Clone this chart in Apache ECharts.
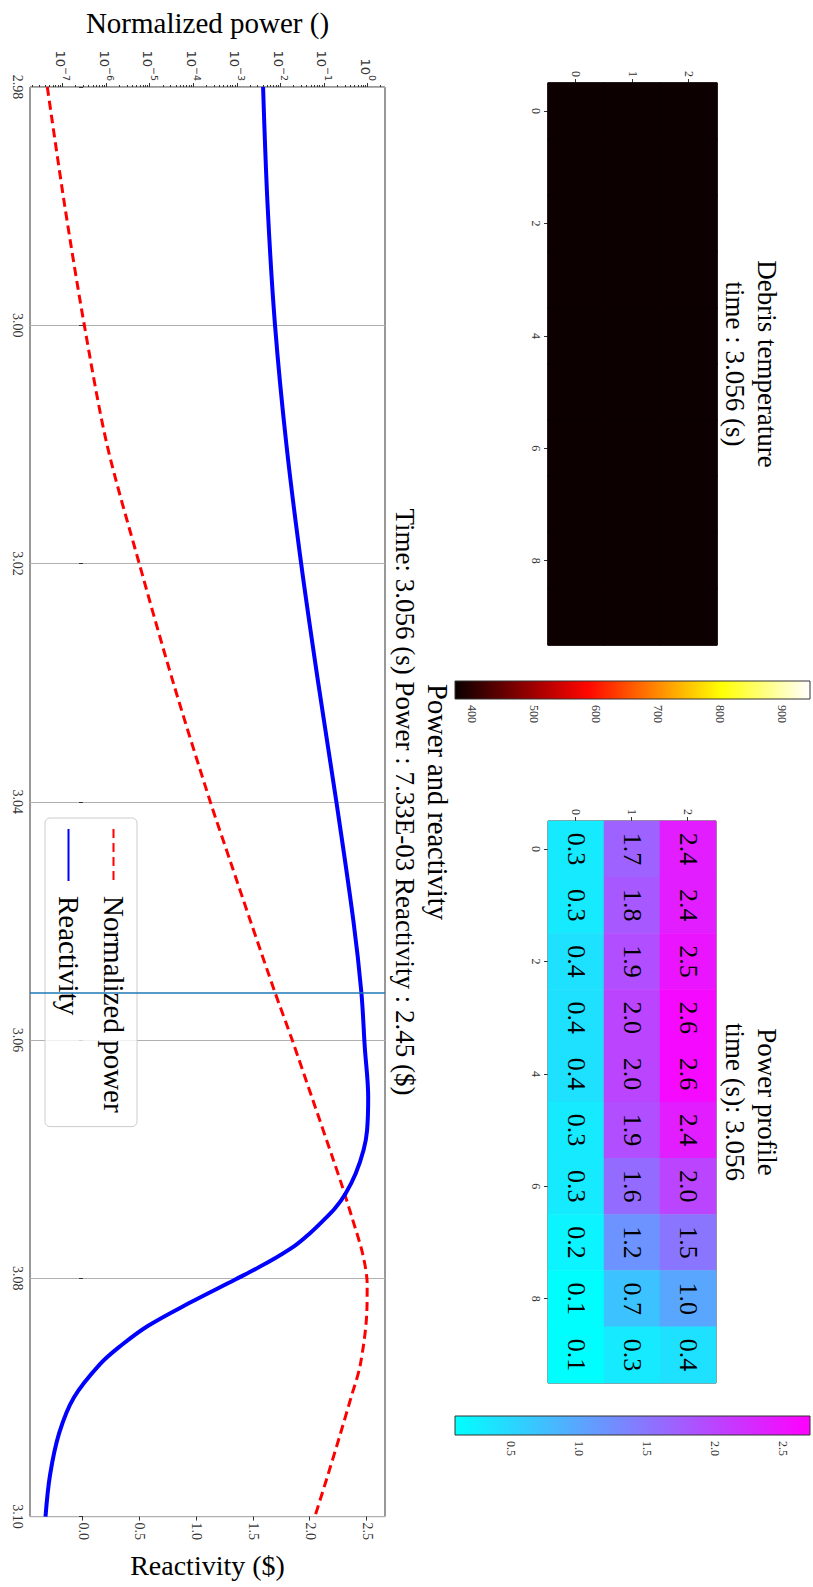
<!DOCTYPE html>
<html><head><meta charset="utf-8">
<script src="https://cdn.jsdelivr.net/npm/echarts@6/dist/echarts.min.js"></script>
<style>
html,body{margin:0;padding:0;background:#fff;width:813px;height:1587px;overflow:hidden}
#wrap{position:absolute;left:0;top:0;width:1587px;height:813px;transform-origin:0 0;transform:translateX(813px) rotate(90deg);}
</style></head><body><div id="wrap"></div>
<script>
// ---------- data ----------
const columns = [0, 1, 2, 3, 4, 5, 6, 7, 8, 9];
const rows = [0, 1, 2];
const debrisRow0 = [375, 375, 375, 375, 375, 375, 375, 375, 375, 375];
const debrisRow1 = [375, 375, 375, 375, 375, 375, 375, 375, 375, 375];
const debrisRow2 = [375, 375, 375, 375, 375, 375, 375, 375, 375, 375];
const powerRow0 = [0.3, 0.3, 0.4, 0.4, 0.4, 0.3, 0.3, 0.2, 0.1, 0.1];
const powerRow1 = [1.7, 1.8, 1.9, 2.0, 2.0, 1.9, 1.6, 1.2, 0.7, 0.3];
const powerRow2 = [2.4, 2.4, 2.5, 2.6, 2.6, 2.4, 2.0, 1.5, 1.0, 0.4];
const debrisRange = [373, 945];
const powerRange = [0.09, 2.70];
const debrisTicks = [400, 500, 600, 700, 800, 900];
const powerTicks = [0.5, 1.0, 1.5, 2.0, 2.5];

const powerTimes = [2.98, 2.99, 3.00, 3.01, 3.02, 3.03, 3.04, 3.045, 3.05, 3.056, 3.06, 3.065, 3.07, 3.0723, 3.075, 3.078, 3.0805, 3.083, 3.0873, 3.09, 3.093, 3.0965, 3.10];
const normPower  = [4.37e-8, 1.10e-7, 3.09e-7, 1.02e-6, 5.62e-6, 3.39e-5, 2.40e-4, 6.92e-4, 2.0e-3, 7.33e-3, 1.82e-2, 5.37e-2, 0.158, 0.257, 0.437, 0.759, 0.955, 0.933, 0.661, 0.407, 0.234, 0.120, 0.0603];
const reactTimes = [2.98, 2.99, 3.00, 3.01, 3.02, 3.03, 3.04, 3.05, 3.056, 3.0606, 3.0648, 3.0676, 3.0692, 3.0712, 3.0729, 3.0741, 3.0751, 3.0762, 3.0773, 3.0787, 3.0801, 3.0821, 3.0840, 3.0856, 3.0872, 3.09, 3.093, 3.0965, 3.10];
const reactivity = [1.585, 1.625, 1.69, 1.79, 1.92, 2.07, 2.23, 2.38, 2.45, 2.48, 2.51, 2.50, 2.47, 2.40, 2.31, 2.22, 2.12, 2.00, 1.86, 1.62, 1.34, 0.93, 0.57, 0.34, 0.15, -0.08, -0.21, -0.29, -0.33];
const currentTime = 3.056;
const timeRange = [2.98, 3.10];
const powerAxisRange = [1.75e-8, 2.45];
const reactAxisRange = [-0.4665, 2.658];
const powerDecades = [1e-7, 1e-6, 1e-5, 1e-4, 1e-3, 1e-2, 1e-1, 1];
const reactTicks = [0, 0.5, 1.0, 1.5, 2.0, 2.5];
const titleDebris = ['Debris temperature', 'time : 3.056 (s)'];
const titlePower = ['Power profile', 'time (s): 3.056'];
const titleLine = ['Power and reactivity', 'Time: 3.056 (s) Power : 7.33E-03 Reactivity : 2.45 ($)'];

// ---------- helpers ----------
const FONT = '"Liberation Serif", "DejaVu Serif", serif';
const MATHFONT = '"DejaVu Sans", sans-serif';
const hotColors = ['#0a0000', '#5e0000', '#b20000', '#ff0700', '#ff5a00', '#ffae00', '#ffff04', '#ffff82', '#ffffff'];
const coolColors = ['#00ffff', '#ff00ff'];
const minorTicks = [];
for (let k = -8; k <= 0; k++) for (let m = 2; m <= 9; m++) {
  const v = m * Math.pow(10, k);
  if (v > powerAxisRange[0] && v < powerAxisRange[1]) minorTicks.push(v);
}
function grid3(r0, r1, r2) {
  const out = [];
  [r0, r1, r2].forEach((row, r) => row.forEach((v, c) => out.push([columns[c], rows[r], v])));
  return out;
}
const debrisData = grid3(debrisRow0, debrisRow1, debrisRow2);
const powerData = grid3(powerRow0, powerRow1, powerRow2);
const powerLine = powerTimes.map((t, i) => [t, normPower[i]]);
const reactLine = reactTimes.map((t, i) => [t, reactivity[i]]);

const AX = '#333';
function heatX(gi) {
  return { type: 'category', gridIndex: gi, data: columns, position: 'bottom',
    axisLine: { show: false }, splitLine: { show: false },
    axisTick: { show: true, alignWithLabel: true, interval: 1, length: 4, lineStyle: { color: AX } },
    axisLabel: { interval: 1, fontSize: 12, color: '#333', fontFamily: FONT, margin: 6 } };
}
function heatY(gi) {
  return { type: 'category', gridIndex: gi, data: rows, position: 'left',
    axisLine: { show: false }, splitLine: { show: false },
    axisTick: { show: true, alignWithLabel: true, length: 4, lineStyle: { color: AX } },
    axisLabel: { fontSize: 12, color: '#333', fontFamily: FONT, margin: 6 } };
}
function cbarX(gi) { return { type: 'value', gridIndex: gi, min: 0, max: 1, show: false }; }
function cbarY(gi, range, ticks, fmt) {
  return { type: 'value', gridIndex: gi, min: range[0], max: range[1], position: 'right',
    axisLine: { show: false }, splitLine: { show: false },
    axisTick: { show: true, customValues: ticks, length: 4, lineStyle: { color: AX } },
    axisLabel: { customValues: ticks, fontSize: 12, color: '#333', fontFamily: FONT, margin: 6, formatter: fmt } };
}
function cbarSeries(xi, yi, range, colors) {
  return { type: 'custom', xAxisIndex: xi, yAxisIndex: yi, silent: true, data: [[0, range[0]]],
    renderItem: function (params, api) {
      const a = api.coord([0, range[0]]);
      const b = api.coord([1, range[1]]);
      const stops = colors.map((c, i) => ({ offset: i / (colors.length - 1), color: c }));
      return { type: 'rect', shape: { x: a[0], y: b[1], width: b[0] - a[0], height: a[1] - b[1] },
        style: { fill: new echarts.graphic.LinearGradient(0, 1, 0, 0, stops), stroke: AX, lineWidth: 1 } };
    } };
}
function textEl(str, x, y, size) {
  return { type: 'text', x: x, y: y, silent: true,
    style: { text: str, font: size + 'px ' + FONT, fill: '#000', textAlign: 'center', textVerticalAlign: 'middle', align: 'center', verticalAlign: 'middle' } };
}
function supFmt(v) {
  const e = Math.round(Math.log10(v));
  const s = e < 0 ? '\u2212' + (-e) : String(e);
  return '{b|10}{s|' + s + '}';
}

const chart = echarts.init(document.getElementById('wrap'), null, { renderer: 'svg', width: 1587, height: 813 });
chart.setOption({
  backgroundColor: '#fff',
  animation: false,
  textStyle: { fontFamily: FONT },
  grid: [
    { left: 83, top: 96, width: 562, height: 169, show: true, borderColor: AX, borderWidth: 1, backgroundColor: 'transparent' },
    { left: 681, top: 3, width: 18, height: 355 },
    { left: 821, top: 97, width: 562, height: 168, show: true, borderColor: AX, borderWidth: 1, backgroundColor: 'transparent' },
    { left: 1416, top: 3, width: 19, height: 355 },
    { left: 83, top: 428, width: 1439, height: 355, show: true, borderColor: AX, borderWidth: 1, backgroundColor: 'transparent' }
  ],
  xAxis: [
    heatX(0), cbarX(1), heatX(2), cbarX(3),
    { type: 'value', gridIndex: 4, min: timeRange[0], max: timeRange[1], interval: 0.02, position: 'bottom',
      axisLine: { show: false },
      axisTick: { show: true, length: 4, lineStyle: { color: AX } },
      axisLabel: { fontSize: 14, color: '#333', fontFamily: FONT, margin: 6, formatter: v => v.toFixed(2) },
      splitLine: { show: true, lineStyle: { color: '#b0b0b0', width: 1 } } }
  ],
  yAxis: [
    heatY(0), cbarY(1, debrisRange, debrisTicks, v => String(Math.round(v))),
    heatY(2), cbarY(3, powerRange, powerTicks, v => v.toFixed(1)),
    { type: 'log', gridIndex: 4, min: powerAxisRange[0], max: powerAxisRange[1], position: 'left',
      name: 'Normalized power ()', nameLocation: 'middle', nameRotate: 90, nameGap: 50,
      nameTextStyle: { fontSize: 29, color: '#000', fontFamily: FONT },
      axisLine: { show: false }, splitLine: { show: false },
      axisTick: { show: true, customValues: powerDecades, length: 4, lineStyle: { color: AX } },
      axisLabel: { customValues: powerDecades, formatter: supFmt, margin: 6,
        rich: { b: { fontSize: 13, color: '#333', fontFamily: MATHFONT, lineHeight: 18, verticalAlign: 'bottom' },
                s: { fontSize: 9.5, color: '#333', fontFamily: MATHFONT, lineHeight: 11, verticalAlign: 'top' } } } },
    { type: 'log', gridIndex: 4, min: powerAxisRange[0], max: powerAxisRange[1], position: 'left',
      axisLine: { show: false }, splitLine: { show: false }, axisLabel: { show: false },
      axisTick: { show: true, customValues: minorTicks, length: 2, lineStyle: { color: AX } } },
    { type: 'value', gridIndex: 4, min: reactAxisRange[0], max: reactAxisRange[1], position: 'right',
      name: 'Reactivity ($)', nameLocation: 'middle', nameRotate: 90, nameGap: 33,
      nameTextStyle: { fontSize: 28, color: '#000', fontFamily: FONT },
      axisLine: { show: false }, splitLine: { show: false },
      axisTick: { show: true, customValues: reactTicks, length: 4, lineStyle: { color: AX } },
      axisLabel: { customValues: reactTicks, fontSize: 14, color: '#333', fontFamily: FONT, margin: 6, formatter: v => v.toFixed(1) } }
  ],
  visualMap: [
    { show: false, type: 'continuous', seriesIndex: 0, dimension: 2, min: debrisRange[0], max: debrisRange[1], inRange: { color: hotColors } },
    { show: false, type: 'continuous', seriesIndex: 2, dimension: 2, min: powerRange[0], max: powerRange[1], inRange: { color: coolColors } }
  ],
  legend: {
    data: ['Normalized power', 'Reactivity'], orient: 'vertical', left: 818, top: 676,
    itemWidth: 52, itemHeight: 14, itemGap: 16, padding: [9, 14, 9, 10],
    borderColor: '#cccccc', borderWidth: 1, borderRadius: 5, backgroundColor: 'rgba(255,255,255,0.8)',
    itemStyle: { opacity: 0 },
    textStyle: { fontSize: 29, color: '#000', fontFamily: FONT, padding: [0, 0, 0, 10] }
  },
  series: [
    { type: 'heatmap', xAxisIndex: 0, yAxisIndex: 0, data: debrisData, silent: true,
      itemStyle: { borderWidth: 1, borderColor: '#0c0000' } },
    cbarSeries(1, 1, debrisRange, hotColors),
    { type: 'heatmap', xAxisIndex: 2, yAxisIndex: 2, data: powerData, silent: true, itemStyle: { borderWidth: 0 },
      label: { show: true, fontSize: 26, color: '#000', fontFamily: FONT, formatter: p => p.value[2].toFixed(1) } },
    cbarSeries(3, 3, powerRange, coolColors),
    { name: 'Normalized power', type: 'line', xAxisIndex: 4, yAxisIndex: 4, data: powerLine, smooth: 0.3,
      symbol: 'none', lineStyle: { color: '#ff0000', width: 3, type: [9, 5] }, itemStyle: { color: '#ff0000' }, z: 3 },
    { name: 'Reactivity', type: 'line', xAxisIndex: 4, yAxisIndex: 6, data: reactLine, smooth: 0.35,
      symbol: 'none', lineStyle: { color: '#0000ff', width: 4 }, itemStyle: { color: '#0000ff' }, z: 4,
      markLine: { silent: true, symbol: 'none', precision: 5, label: { show: false },
        lineStyle: { color: '#1f77b4', width: 1.5, type: 'solid' },
        data: [[{ coord: [currentTime, reactAxisRange[0]] }, { coord: [currentTime, reactAxisRange[1]] }]] } }
  ],
  graphic: [
    textEl(titleDebris[0], 364, 46, 27), textEl(titleDebris[1], 364, 78, 27),
    textEl(titlePower[0], 1102, 46, 27), textEl(titlePower[1], 1102, 78, 27),
    textEl(titleLine[0], 802, 376, 28.5), textEl(titleLine[1], 802, 408, 27)
  ]
});
</script></body></html>
